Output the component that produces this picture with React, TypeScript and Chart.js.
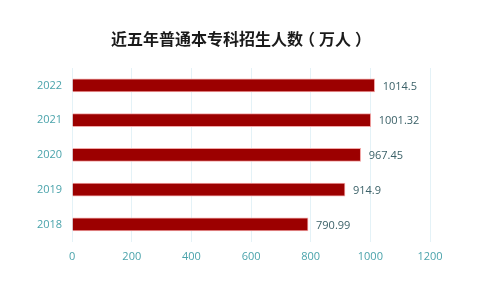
import React, { useEffect, useRef } from "react";
import { Chart, registerables } from "chart.js";

Chart.register(...registerables);

const years = ["2022", "2021", "2020", "2019", "2018"];
const enrollment = [1014.5, 1001.32, 967.45, 914.9, 790.99];
const valueLabels = ["1014.5", "1001.32", "967.45", "914.9", "790.99"];
const titleText = "近五年普通本专科招生人数（万人）";

const valueLabelPlugin = {
  id: "valueLabels",
  afterDatasetsDraw(chart: any) {
    const { ctx } = chart;
    const meta = chart.getDatasetMeta(0);
    ctx.save();
    ctx.font = "11px 'Open Sans'";
    ctx.fillStyle = "#3b6168";
    ctx.textAlign = "left";
    ctx.textBaseline = "middle";
    meta.data.forEach((bar: any, i: number) => {
      ctx.fillText(valueLabels[i], bar.x + 8, bar.y + 1);
    });
    ctx.restore();
  },
};

// Draws the title; full-width brackets are nudged so they sit centred in their box.
const titlePlugin = {
  id: "centerTitle",
  afterDraw(chart: any) {
    const { ctx } = chart;
    const chars = Array.from(titleText);
    ctx.save();
    ctx.font = "bold 16px 'Noto Sans CJK SC'";
    ctx.fillStyle = "#1a1a1a";
    ctx.textAlign = "left";
    ctx.textBaseline = "middle";
    const widths = chars.map((c) => ctx.measureText(c).width);
    const total = widths.reduce((a, b) => a + b, 0);
    let x = 239 - total / 2;
    chars.forEach((c, i) => {
      const nudge = c === "（" ? -4 : c === "）" ? 4 : 0;
      ctx.fillText(c, x + nudge, 39);
      x += widths[i];
    });
    ctx.restore();
  },
};

export default function App() {
  const ref = useRef<HTMLCanvasElement>(null);
  useEffect(() => {
    if (!ref.current) return;
    const chart = new Chart(ref.current, {
      type: "bar",
      data: {
        labels: years,
        datasets: [
          {
            data: enrollment,
            backgroundColor: "#9c0000",
            borderColor: "#f2a6a6",
            borderWidth: 1,
            barThickness: 13,
          },
        ],
      },
      options: {
        indexAxis: "y",
        animation: false,
        responsive: false,
        maintainAspectRatio: false,
        layout: { padding: { top: 68, left: 27, right: 70, bottom: 20 } },
        plugins: {
          legend: { display: false },
          tooltip: { enabled: false },
          title: { display: false },
        },
        scales: {
          x: {
            min: 0,
            max: 1200,
            ticks: {
              stepSize: 200,
              color: "#4aa3ab",
              font: { family: "'Open Sans'", size: 11 },
              padding: 8,
              callback: (v: any) => String(v),
            },
            grid: { color: "#e4f2f7", drawTicks: false },
            border: { display: false },
          },
          y: {
            ticks: {
              color: "#4aa3ab",
              font: { family: "'Open Sans'", size: 11 },
              padding: 10,
            },
            grid: { display: false, drawTicks: false },
            border: { display: true, color: "#e4f2f7" },
          },
        },
      },
      plugins: [valueLabelPlugin, titlePlugin],
    });
    return () => chart.destroy();
  }, []);
  return (
    <div style={{ position: "fixed", left: 0, top: 0, width: 500, height: 291, background: "#fff" }}>
      <canvas ref={ref} width={500} height={291} />
    </div>
  );
}
